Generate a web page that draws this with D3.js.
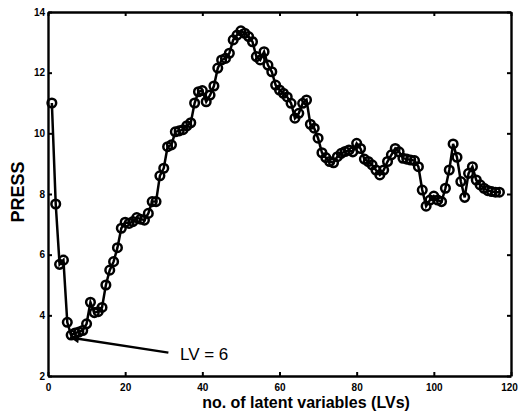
<!DOCTYPE html>
<html>
<head>
<meta charset="utf-8">
<script src="https://cdn.jsdelivr.net/npm/d3@7"></script>
<style>
  html, body { margin: 0; padding: 0; background: #fff; }
  svg { display: block; }
  text { font-family: Arial, "Liberation Sans", sans-serif; }
</style>
</head>
<body>
<svg id="chart" width="518" height="414"></svg>
<script>
// PRESS vs number of latent variables
const lvs = d3.range(1, 118);
const press = [
  11.0, 7.67, 5.68, 5.82, 3.77, 3.35, 3.42, 3.45, 3.5, 3.72,
  4.43, 4.09, 4.12, 4.26, 5.0, 5.49, 5.77, 6.23, 6.87, 7.07,
  7.03, 7.09, 7.22, 7.17, 7.14, 7.36, 7.75, 7.75, 8.6, 8.85,
  9.56, 9.62, 10.05, 10.08, 10.12, 10.25, 10.35, 11.0, 11.37, 11.41,
  11.04, 11.26, 11.56, 12.15, 12.42, 12.47, 12.64, 13.08, 13.24, 13.38,
  13.30, 13.19, 13.02, 12.53, 12.42, 12.69, 12.25, 12.03, 11.59, 11.43,
  11.32, 11.2, 10.99, 10.5, 10.66, 10.99, 11.1, 10.3, 10.17, 9.84,
  9.36, 9.2, 9.07, 9.03, 9.23, 9.34, 9.4, 9.45, 9.39, 9.67,
  9.5, 9.15, 9.07, 8.96, 8.79, 8.63, 8.79, 9.07, 9.29, 9.5,
  9.39, 9.18, 9.15, 9.12, 9.1, 8.9, 8.13, 7.6, 7.8, 7.93,
  7.8, 7.75, 8.19, 8.79, 9.65, 9.21, 8.41, 7.89, 8.68, 8.9,
  8.46, 8.3, 8.19, 8.11, 8.08, 8.06, 8.06
];
const xTicks = [0, 20, 40, 60, 80, 100, 120];
const yTicks = [2, 4, 6, 8, 10, 12, 14];
const note = { text: 'LV = 6', tip: [5.7, 3.27], tail: [31.2, 2.77], label: [34.2, 2.53] };

const data = lvs.map((lv, i) => ({ lv, v: press[i] }));

const margin = { left: 48, top: 12, right: 7, bottom: 38 };
const width = 518, height = 414;
const svg = d3.select('#chart');

const x = d3.scaleLinear().domain([0, 120]).range([margin.left, width - margin.right]);
const y = d3.scaleLinear().domain([2, 14]).range([height - margin.bottom, margin.top]);

// axes (ticks inward on all four sides)
const axisStyle = (g) => {
  g.select('.domain').attr('stroke', '#000').attr('stroke-width', 2.4);
  g.selectAll('.tick line').attr('stroke', '#000').attr('stroke-width', 2);
  g.selectAll('.tick text').attr('font-size', 10).attr('font-weight', 'bold').attr('fill', '#000');
};

const xAxis = svg.append('g')
  .attr('transform', `translate(0,${y(2)})`)
  .call(d3.axisBottom(x).tickValues(xTicks).tickSizeInner(-4).tickSizeOuter(0).tickPadding(8))
  .call(axisStyle);
// last label sits at the window edge
xAxis.selectAll('.tick text').filter((d) => d === 120).attr('dx', -2);

svg.append('g')
  .attr('transform', `translate(0,${y(14)})`)
  .call(d3.axisTop(x).tickValues(xTicks).tickSizeInner(-4).tickSizeOuter(0).tickFormat(''))
  .call(axisStyle);

svg.append('g')
  .attr('transform', `translate(${x(0)},0)`)
  .call(d3.axisLeft(y).tickValues(yTicks).tickSizeInner(-4).tickSizeOuter(0).tickPadding(3))
  .call(axisStyle);

svg.append('g')
  .attr('transform', `translate(${x(120)},0)`)
  .call(d3.axisRight(y).tickValues(yTicks).tickSizeInner(-4).tickSizeOuter(0).tickFormat(''))
  .call(axisStyle);

// line + circle markers
const line = d3.line().x((d) => x(d.lv)).y((d) => y(d.v));
svg.append('path')
  .datum(data)
  .attr('d', line)
  .attr('fill', 'none')
  .attr('stroke', '#000')
  .attr('stroke-width', 2.5);

svg.append('g')
  .selectAll('circle')
  .data(data)
  .join('circle')
  .attr('cx', (d) => x(d.lv))
  .attr('cy', (d) => y(d.v))
  .attr('r', 4.3)
  .attr('fill', 'none')
  .attr('stroke', '#000')
  .attr('stroke-width', 2.5);

// annotation arrow
svg.append('defs').append('marker')
  .attr('id', 'head')
  .attr('viewBox', '0 0 10 10')
  .attr('refX', 10).attr('refY', 5)
  .attr('markerWidth', 16).attr('markerHeight', 9)
  .attr('markerUnits', 'userSpaceOnUse')
  .attr('orient', 'auto')
  .append('path').attr('d', 'M0,0 L10,5 L0,10 Z').attr('fill', '#000');

svg.append('line')
  .attr('x1', x(note.tail[0])).attr('y1', y(note.tail[1]))
  .attr('x2', x(note.tip[0])).attr('y2', y(note.tip[1]))
  .attr('stroke', '#000').attr('stroke-width', 2.4)
  .attr('marker-end', 'url(#head)');

svg.append('text')
  .attr('x', x(note.label[0])).attr('y', y(note.label[1]))
  .attr('font-size', 17)
  .attr('fill', '#000')
  .text(note.text);

// axis titles
svg.append('text')
  .attr('x', 306).attr('y', 408)
  .attr('text-anchor', 'middle')
  .attr('font-size', 16).attr('font-weight', 'bold')
  .text('no. of latent variables (LVs)');

svg.append('text')
  .attr('transform', 'translate(24,192) rotate(-90)')
  .attr('text-anchor', 'middle')
  .attr('font-size', 18).attr('font-weight', 'bold')
  .text('PRESS');
</script>
</body>
</html>
